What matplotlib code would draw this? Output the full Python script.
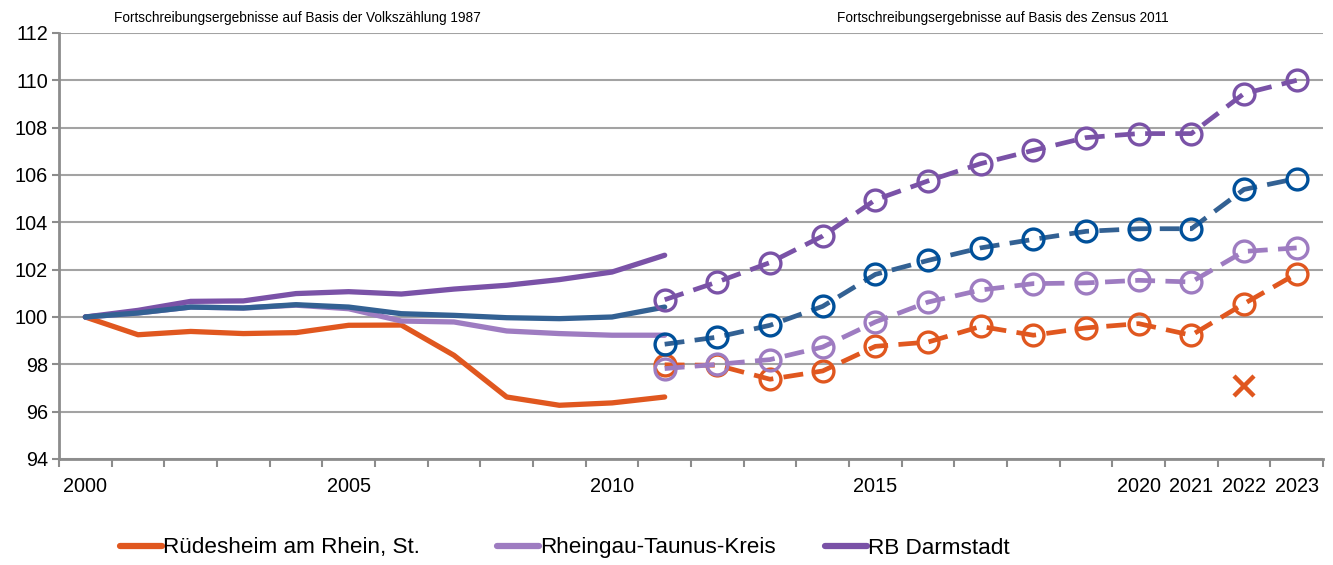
import matplotlib
matplotlib.use("Agg")
import matplotlib.pyplot as plt
from matplotlib.lines import Line2D
from matplotlib.ticker import FixedLocator

plt.rcParams["font.family"] = ["Liberation Sans", "DejaVu Sans"]

# ---------------------------------------------------------------------------
# Data (Index 2000 = 100)
# ---------------------------------------------------------------------------
years = list(range(2000, 2024))
years_alt = list(range(2000, 2012))   # Basis Volkszählung 1987
years_neu = list(range(2011, 2024))   # Basis Zensus 2011

ruedesheim_alt = [100.0, 99.25, 99.39, 99.30, 99.34, 99.65, 99.66, 98.38, 96.62, 96.27, 96.37, 96.62]
rheingau_alt = [100.0, 100.17, 100.42, 100.38, 100.50, 100.35, 99.83, 99.79, 99.41, 99.30, 99.23, 99.23]
darmstadt_alt = [100.0, 100.28, 100.66, 100.68, 100.99, 101.07, 100.97, 101.18, 101.34, 101.58, 101.90, 102.61]
hessen_alt = [100.0, 100.17, 100.42, 100.38, 100.52, 100.42, 100.14, 100.07, 99.97, 99.93, 100.0, 100.42]

ruedesheim_neu = [97.98, 97.96, 97.37, 97.72, 98.76, 98.94, 99.60, 99.23, 99.54, 99.72, 99.23, 100.56, 101.83]
rheingau_neu = [97.82, 98.00, 98.20, 98.73, 99.79, 100.63, 101.14, 101.41, 101.44, 101.55, 101.48, 102.77, 102.92]
darmstadt_neu = [100.73, 101.48, 102.30, 103.42, 104.95, 105.75, 106.48, 107.04, 107.58, 107.75, 107.75, 109.44, 110.00]
hessen_neu = [98.85, 99.15, 99.65, 100.45, 101.80, 102.39, 102.92, 103.28, 103.62, 103.73, 103.73, 105.39, 105.85]

ruedesheim_x_year = [2022]
ruedesheim_x_val = [97.07]

labeled_years = [2000, 2005, 2010, 2015, 2020, 2021, 2022, 2023]
y_ticks = list(range(94, 113, 2))

title_alt = "Fortschreibungsergebnisse auf Basis der Volkszählung 1987"
title_neu = "Fortschreibungsergebnisse auf Basis des Zensus 2011"

# ---------------------------------------------------------------------------
# Styles
# ---------------------------------------------------------------------------
C_RUED = "#E0571F"
C_RHEIN = "#9E7CC1"
C_DARM = "#7A52A7"
C_HESS = "#336193"
C_HESS_MK = "#00509A"
GRID = "#A3A3A3"
AXIS = "#8C8C8C"

pos = {y: i for i, y in enumerate(years)}


def xs(yrs):
    return [pos[y] for y in yrs]


fig = plt.figure(figsize=(13.33, 5.65), dpi=100)
ax = fig.add_axes([59 / 1333, 1 - 459 / 565, (1323 - 59) / 1333, (459 - 33) / 565])

series = [
    (ruedesheim_alt, ruedesheim_neu, C_RUED, C_RUED),
    (rheingau_alt, rheingau_neu, C_RHEIN, C_RHEIN),
    (darmstadt_alt, darmstadt_neu, C_DARM, C_DARM),
    (hessen_alt, hessen_neu, C_HESS, C_HESS_MK),
]

for alt, neu, col, mk in series:
    ax.plot(xs(years_alt), alt, color=col, lw=3.8, solid_joinstyle="round",
            solid_capstyle="round", zorder=3)
    ax.plot(xs(years_neu), neu, color=col, lw=3.4, dashes=(4.2, 2.2),
            marker="o", ms=15, mfc="none", mec=mk, mew=2.4, zorder=4)

ax.plot(xs(ruedesheim_x_year), ruedesheim_x_val, ls="none", marker="x",
        ms=15, mew=3.2, color=C_RUED, zorder=4)

ax.set_xlim(-0.5, len(years) - 0.5)
ax.set_ylim(94, 112)
ax.set_yticks(y_ticks)
ax.set_yticklabels([str(v) for v in y_ticks])
ax.set_xticks(xs(labeled_years))
ax.set_xticklabels([str(y) for y in labeled_years])
ax.xaxis.set_minor_locator(FixedLocator([i - 0.5 for i in range(len(years) + 1)]))

ax.tick_params(axis="x", which="major", length=0, pad=13, labelsize=14.3)
ax.tick_params(axis="x", which="minor", length=6, width=1.5, color=AXIS)
ax.tick_params(axis="y", which="major", length=5, width=1.5, color=AXIS,
               pad=3, labelsize=14.3)

ax.grid(axis="y", color=GRID, lw=1.5)
ax.set_axisbelow(True)
for side in ("top", "right"):
    ax.spines[side].set_visible(False)
for side in ("left", "bottom"):
    ax.spines[side].set_color(AXIS)
    ax.spines[side].set_linewidth(2)
    ax.spines[side].set_zorder(5)

fig.text(297 / 1333, 1 - 18 / 565, title_alt, ha="center", va="center", fontsize=9.8)
fig.text(1003 / 1333, 1 - 18 / 565, title_neu, ha="center", va="center", fontsize=9.8)

# legend: one entry per block, as in the source layout
legend_items = [
    ("Rüdesheim am Rhein, St.", C_RUED, 120),
    ("Rheingau-Taunus-Kreis", C_RHEIN, 497),
    ("RB Darmstadt", C_DARM, 825),
]
for label, col, x0 in legend_items:
    h = Line2D([], [], color=col, lw=4.5, solid_capstyle="round")
    fig.legend([h], [label], loc="center left", bbox_to_anchor=(x0 / 1333, 1 - 548 / 565),
               frameon=False, fontsize=16.2, handlelength=1.85, handletextpad=0.08,
               borderpad=0, borderaxespad=0)

fig.savefig("out.png", dpi=100)
